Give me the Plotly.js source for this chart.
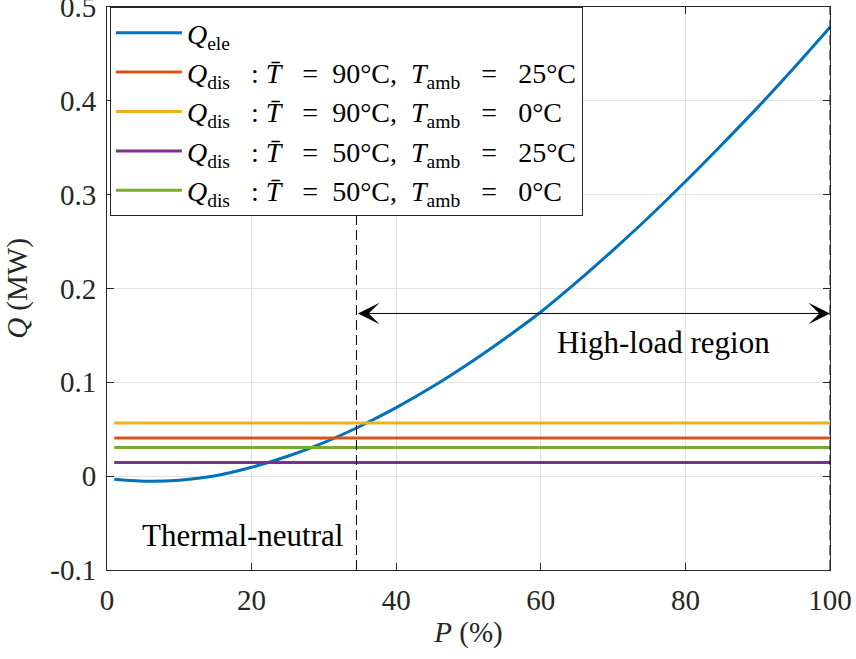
<!DOCTYPE html>
<html>
<head>
<meta charset="utf-8">
<script src="https://cdn.plot.ly/plotly-3.0.1.min.js"></script>
<style>html,body{margin:0;padding:0;background:#fff;}#chart{width:856px;height:659px;}</style>
</head>
<body>
<div id="chart"></div>
<script>
// Q_ele curve
const pEle = [1, 6, 10, 15, 20, 25, 30, 35, 40, 45, 50, 55, 60, 65, 70, 75, 80, 85, 90, 95, 100];
const qEle = [-0.0032, -0.0055, -0.0043, 0.0005, 0.0095, 0.0212, 0.0358, 0.0532, 0.0730, 0.0952, 0.1198, 0.1465, 0.1750, 0.2070, 0.2410, 0.2765, 0.3140, 0.3530, 0.3930, 0.4350, 0.4785];

// Q_dis constant levels
const pDis = [1, 100];
const qDis90_25 = 0.0408;
const qDis90_0 = 0.0567;
const qDis50_25 = 0.0146;
const qDis50_0 = 0.0305;

// region boundaries
const pThermalNeutral = 34.5;
const pMax = 100;
const qArrow = 0.1734;
const dashQ = [-0.1, 0.5];

const xTicks = [0, 20, 40, 60, 80, 100];
const xTickText = ['0', '20', '40', '60', '80', '100'];
const yTicks = [-0.1, 0, 0.1, 0.2, 0.3, 0.4, 0.5];
const yTickText = ['-0.1', '0', '0.1', '0.2', '0.3', '0.4', '0.5'];

const serif = "'Liberation Serif', 'Times New Roman', serif";
const Tbar = 'T\u0304';
function sp(n) { return '\u00a0'.repeat(n); }

function disName(tb, ta) {
  return '<i>Q</i><sub>dis</sub>' + sp(3) + ':' + sp(1) + '<i>' + Tbar + '</i>' + sp(3) + '=' + sp(2) + tb + '°C,' + sp(2) + '<i>T</i><sub>amb</sub>' + sp(3) + '=' + sp(3) + ta + '°C';
}

const traces = [
  {x: pEle, y: qEle, mode: 'lines', line: {color: '#0072BD', width: 3, shape: 'spline', smoothing: 1}, name: '<i>Q</i><sub>ele</sub>', legendgroup: 'a'},
  {x: pDis, y: [qDis90_25, qDis90_25], mode: 'lines', line: {color: '#D95319', width: 3}, name: disName(90, 25), legendgroup: 'b'},
  {x: pDis, y: [qDis90_0, qDis90_0], mode: 'lines', line: {color: '#EDB120', width: 3}, name: disName(90, 0), legendgroup: 'c'},
  {x: pDis, y: [qDis50_25, qDis50_25], mode: 'lines', line: {color: '#7E2F8E', width: 3}, name: disName(50, 25), legendgroup: 'd'},
  {x: pDis, y: [qDis50_0, qDis50_0], mode: 'lines', line: {color: '#77AC30', width: 3}, name: disName(50, 0), legendgroup: 'e'},
  {x: [pThermalNeutral, pThermalNeutral], y: dashQ, mode: 'lines', line: {color: '#000', width: 1, dash: '10px,5px'}, showlegend: false, hoverinfo: 'skip'},
  {x: [pMax, pMax], y: dashQ, mode: 'lines', line: {color: '#000', width: 1, dash: '10px,5px'}, showlegend: false, hoverinfo: 'skip'}
];

const axisCommon = {
  showline: true, mirror: 'ticks', linecolor: '#262626', linewidth: 1,
  ticks: 'inside', ticklen: 7, tickcolor: '#262626',
  showgrid: true, gridcolor: '#e3e3e3', gridwidth: 1,
  zeroline: false, ticklabeloverflow: 'allow',
  tickfont: {family: serif, size: 29, color: '#262626'}
};

const layout = {
  width: 856, height: 659,
  margin: {l: 107, r: 26, t: 7, b: 89},
  paper_bgcolor: '#fff', plot_bgcolor: '#fff',
  showlegend: true,
  font: {family: serif, color: '#262626'},
  xaxis: Object.assign({}, axisCommon, {
    range: [0, 100], tickvals: xTicks, ticktext: xTickText, ticklabelstandoff: 4,
    title: {text: '<i>P</i> (%)', font: {family: serif, size: 29, color: '#262626'}, standoff: 6}
  }),
  yaxis: Object.assign({}, axisCommon, {
    range: [-0.1, 0.5], tickvals: yTicks, ticktext: yTickText, ticklabelstandoff: 4,
    title: {text: '<i>Q</i> (MW)', font: {family: serif, size: 29, color: '#262626'}, standoff: 14}
  }),
  legend: {
    x: 0.004, y: 1, xanchor: 'left', yanchor: 'top',
    bgcolor: '#fff', bordercolor: '#262626', borderwidth: 1,
    font: {family: serif, size: 28, color: '#000'},
    itemwidth: 66,
    tracegroupgap: 0
  },
  annotations: [
    {x: pMax, y: qArrow, ax: pThermalNeutral, ay: qArrow, xref: 'x', yref: 'y', axref: 'x', ayref: 'y',
     text: '', showarrow: true, arrowhead: 3, startarrowhead: 3, arrowside: 'end+start', arrowsize: 3.6, arrowwidth: 1, arrowcolor: '#000'},
    {x: 77, y: 0.1426, xref: 'x', yref: 'y', text: 'High-load region', showarrow: false,
     font: {family: serif, size: 31, color: '#000'}},
    {x: 18.8, y: -0.063, xref: 'x', yref: 'y', text: 'Thermal-neutral', showarrow: false,
     font: {family: serif, size: 31, color: '#000'}}
  ]
};

Plotly.newPlot('chart', traces, layout, {displayModeBar: false, staticPlot: true});
</script>
</body>
</html>
